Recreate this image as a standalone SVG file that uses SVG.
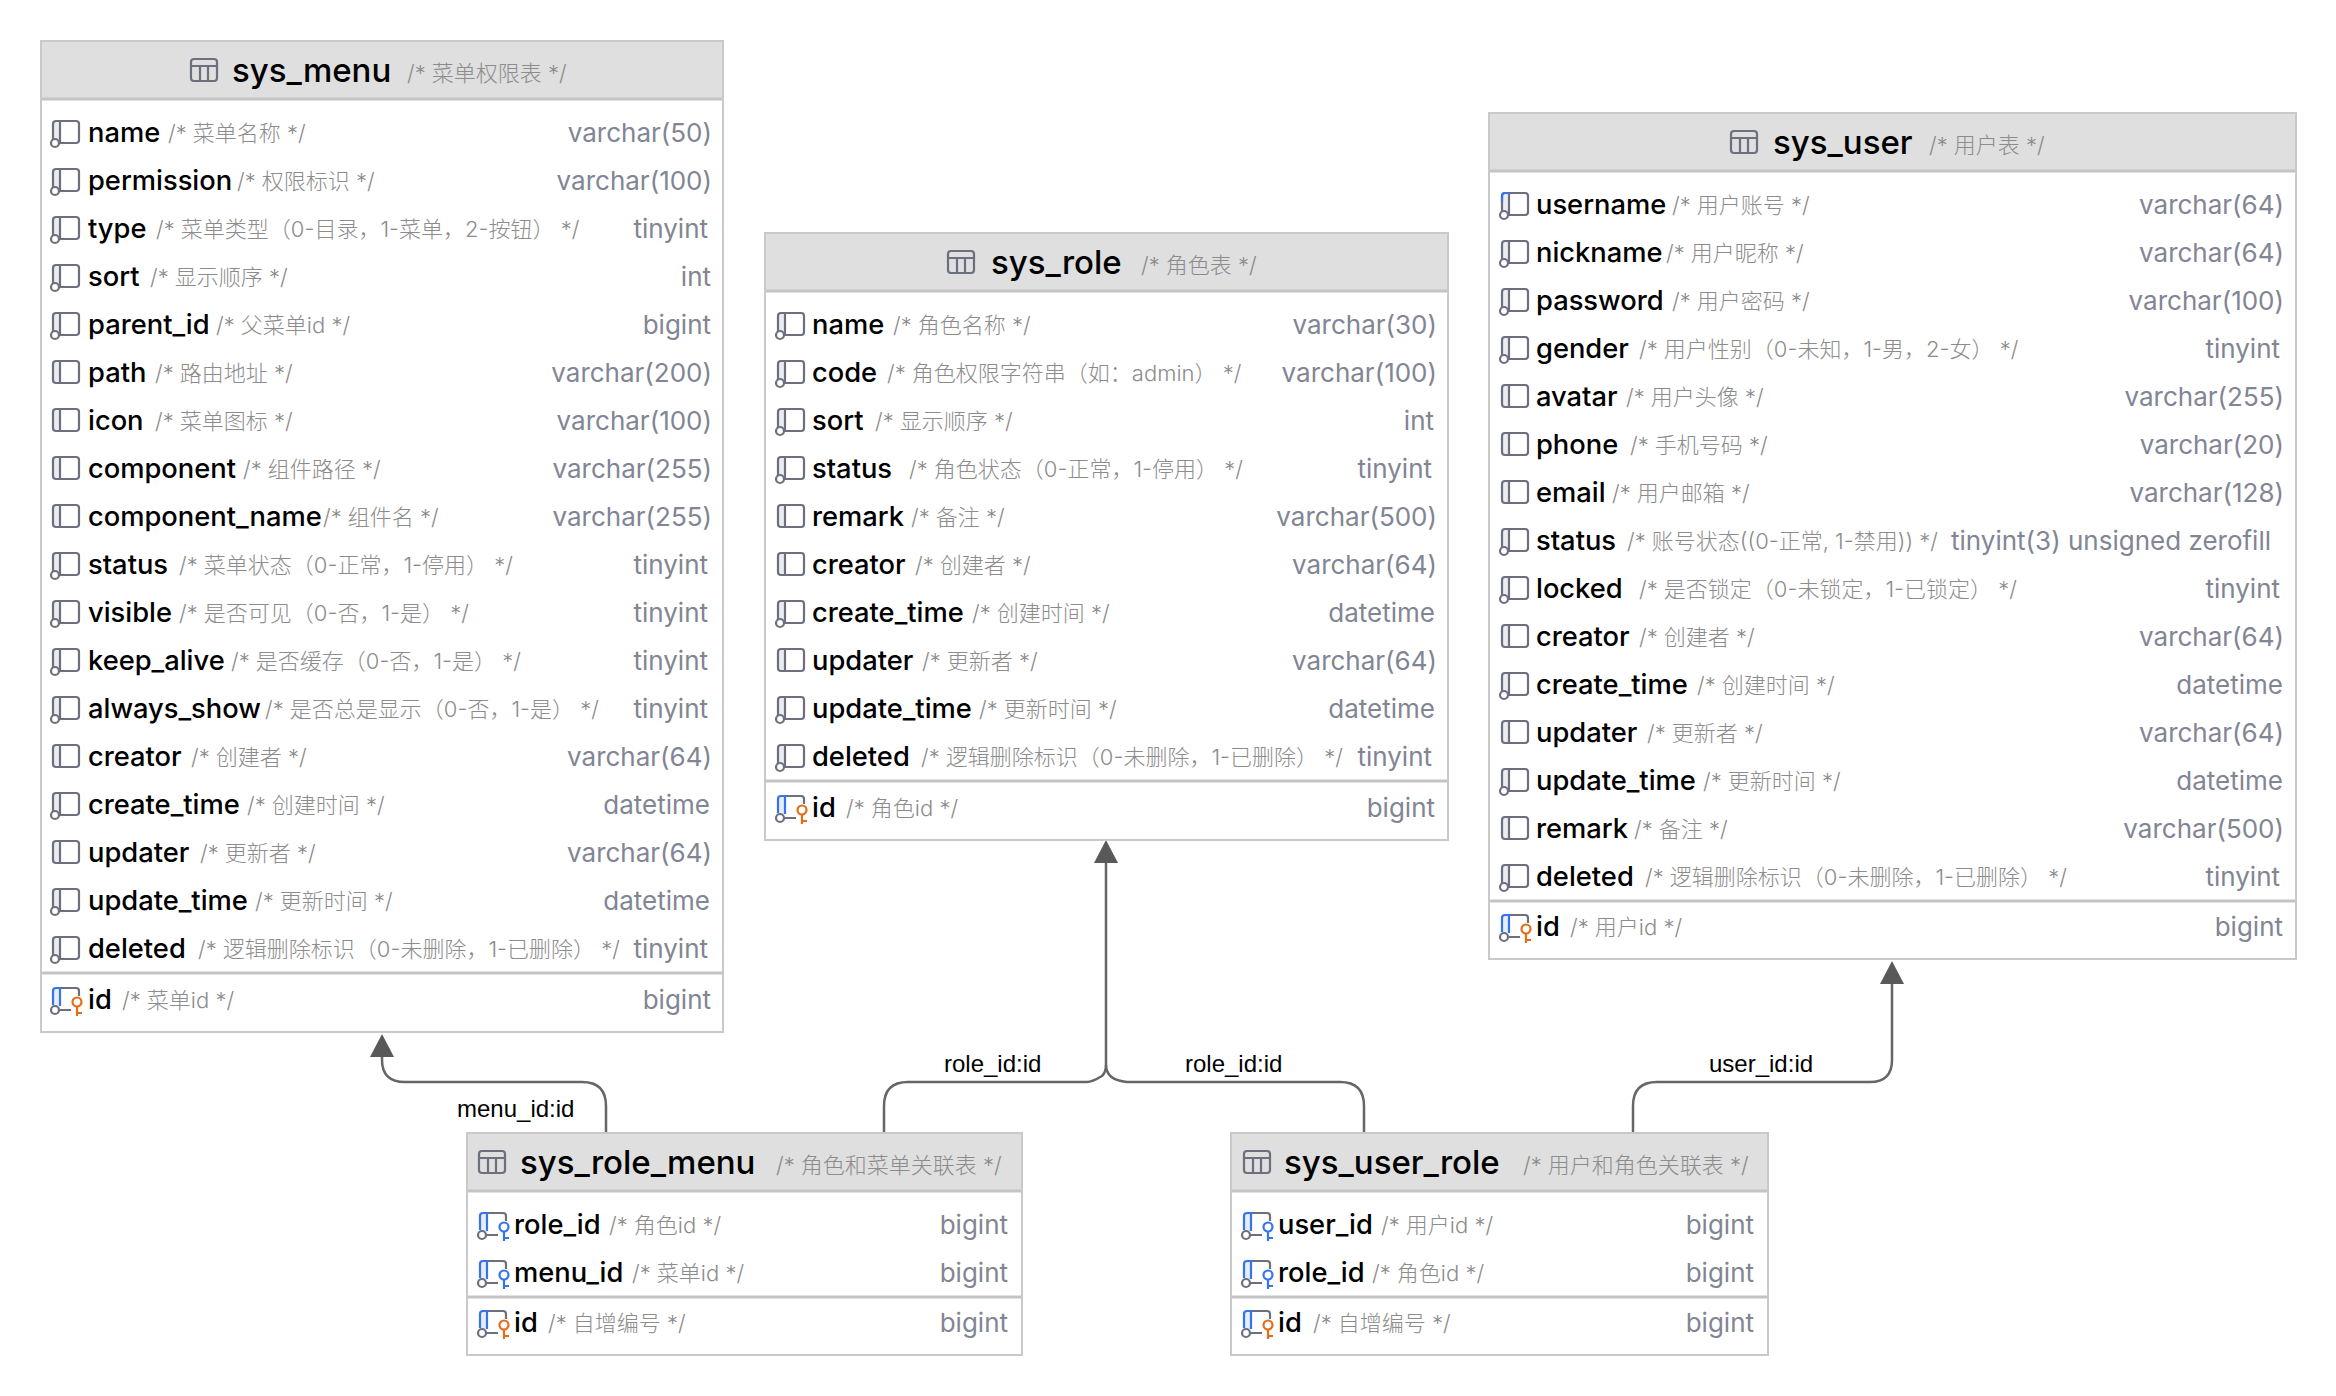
<svg xmlns="http://www.w3.org/2000/svg" width="2336" height="1396" viewBox="0 0 2336 1396">
<style>
text{font-family:Inter,"Noto Sans CJK SC",sans-serif}
.box{fill:#fff;stroke:#c9c9c9;stroke-width:2}
.hd{fill:#dfdfdf}
.sep{stroke:#c4c4c4;stroke-width:3;fill:none}
.ttl{font-size:33px;font-weight:500;fill:#000}
.tc{font-size:22px;fill:#8c8c8c;font-weight:300}
.n{font-size:27.3px;font-weight:500;fill:#000}
.c{font-size:22px;fill:#8c8c8c;font-weight:300}
.t{font-size:26px;fill:#818594;text-anchor:end}
.lbl{font-family:"Liberation Sans",Arial,sans-serif;font-size:24px;fill:#000}
.con{fill:none;stroke:#666;stroke-width:2.5}
.ah{fill:#595959}
.g{fill:none;stroke:#6c707e;stroke-width:2.2}
.bl{fill:none;stroke:#3574f0;stroke-width:2.2}
.or{fill:none;stroke:#e66d17;stroke-width:2.2}
</style>
<defs>
<g id="tbl"><rect class="g" x="1" y="1" width="26" height="22" rx="3"/><path class="g" d="M1 8H27M10 8V23M18 8V23"/></g>
<g id="col"><path d="M1-12H7V10H1Z" fill="#ebecf0"/><rect class="g" x="0" y="-12" width="26" height="22" rx="3"/><path class="g" d="M7-12V10"/></g>
<g id="nn"><circle cx="2" cy="10" r="4" fill="#fff" stroke="#6c707e" stroke-width="2.2"/></g>
<g id="cn"><use href="#col"/><use href="#nn"/></g>
<g id="cu"><use href="#cn"/><path class="bl" d="M0-3V-9Q0-12 3-12H7"/></g>
<g id="pk"><path d="M1-12H7V10H1Z" fill="#e6eeff"/><path class="g" d="M7-12H23Q26-12 26-9V-4M7 10H18"/><path class="bl" d="M0 5V-9Q0-12 3-12H7V6"/><use href="#nn"/><circle class="or" cx="24" cy="2" r="4.5"/><path class="or" d="M24 6.500V16M24 13H29"/></g>
<g id="fk"><path d="M1-12H7V10H1Z" fill="#e6eeff"/><path class="g" d="M7-12H23Q26-12 26-9V-4M7 10H18"/><path class="bl" d="M0 5V-9Q0-12 3-12H7V6"/><use href="#nn"/><circle class="bl" cx="24" cy="2" r="4.500"/><path class="bl" d="M24 6.500V16M24 13H29"/></g>
</defs>
<g id="connectors">
<path class="con" d="M606 1132V1106Q606 1082 582 1082H405Q382 1082 382 1060V1054"/>
<path class="ah" d="M382 1034L394 1057H370Z"/>
<path class="con" d="M884 1132V1106Q884 1082 908 1082H1087Q1092 1082 1102 1076Q1106 1072 1106 1065V860"/>
<path class="con" d="M1364 1132V1106Q1364 1082 1340 1082H1127Q1106 1080 1106 1065"/>
<path class="ah" d="M1106 840L1118 863H1094Z"/>
<path class="con" d="M1633 1132V1106Q1633 1082 1657 1082H1870Q1892 1082 1892 1060V983"/>
<path class="ah" d="M1892 961L1904 984H1880Z"/>
<text class="lbl" x="457" y="1117">menu_id:id</text>
<text class="lbl" x="944" y="1072">role_id:id</text>
<text class="lbl" x="1185" y="1072">role_id:id</text>
<text class="lbl" x="1709" y="1072">user_id:id</text>
</g>
<g id="sys_menu">
<rect class="box" x="41" y="41" width="682" height="991"/><rect class="hd" x="42" y="42" width="680" height="56"/><path class="sep" d="M42 99H722M42 973H722"/>
<use href="#tbl" x="190" y="58"/><text class="ttl" x="232" y="82">sys_menu</text><text class="tc" x="407" y="81">/* 菜单权限表 */</text>
<use href="#cn" x="53" y="133"/><text class="n" x="88" y="142">name</text><text class="c" x="168" y="141">/* 菜单名称 */</text><text class="t" x="712" y="142">varchar(50)</text>
<use href="#cn" x="53" y="181"/><text class="n" x="88" y="190">permission</text><text class="c" x="237" y="189">/* 权限标识 */</text><text class="t" x="712" y="190">varchar(100)</text>
<use href="#cn" x="53" y="229"/><text class="n" x="88" y="238">type</text><text class="c" x="156" y="237">/* 菜单类型（0-目录，1-菜单，2-按钮） */</text><text class="t" x="708" y="238">tinyint</text>
<use href="#cn" x="53" y="277"/><text class="n" x="88" y="286">sort</text><text class="c" x="150" y="285">/* 显示顺序 */</text><text class="t" x="711" y="286">int</text>
<use href="#cn" x="53" y="325"/><text class="n" x="88" y="334">parent_id</text><text class="c" x="216" y="333">/* 父菜单id */</text><text class="t" x="711" y="334">bigint</text>
<use href="#col" x="53" y="373"/><text class="n" x="88" y="382">path</text><text class="c" x="155" y="381">/* 路由地址 */</text><text class="t" x="712" y="382">varchar(200)</text>
<use href="#col" x="53" y="421"/><text class="n" x="88" y="430">icon</text><text class="c" x="155" y="429">/* 菜单图标 */</text><text class="t" x="712" y="430">varchar(100)</text>
<use href="#col" x="53" y="469"/><text class="n" x="88" y="478">component</text><text class="c" x="243" y="477">/* 组件路径 */</text><text class="t" x="712" y="478">varchar(255)</text>
<use href="#col" x="53" y="517"/><text class="n" x="88" y="526">component_name</text><text class="c" x="323" y="525">/* 组件名 */</text><text class="t" x="712" y="526">varchar(255)</text>
<use href="#cn" x="53" y="565"/><text class="n" x="88" y="574">status</text><text class="c" x="179" y="573">/* 菜单状态（0-正常，1-停用） */</text><text class="t" x="708" y="574">tinyint</text>
<use href="#cn" x="53" y="613"/><text class="n" x="88" y="622">visible</text><text class="c" x="179" y="621">/* 是否可见（0-否，1-是） */</text><text class="t" x="708" y="622">tinyint</text>
<use href="#cn" x="53" y="661"/><text class="n" x="88" y="670">keep_alive</text><text class="c" x="231" y="669">/* 是否缓存（0-否，1-是） */</text><text class="t" x="708" y="670">tinyint</text>
<use href="#cn" x="53" y="709"/><text class="n" x="88" y="718">always_show</text><text class="c" x="265" y="717">/* 是否总是显示（0-否，1-是） */</text><text class="t" x="708" y="718">tinyint</text>
<use href="#col" x="53" y="757"/><text class="n" x="88" y="766">creator</text><text class="c" x="191" y="765">/* 创建者 */</text><text class="t" x="712" y="766">varchar(64)</text>
<use href="#cn" x="53" y="805"/><text class="n" x="88" y="814">create_time</text><text class="c" x="247" y="813">/* 创建时间 */</text><text class="t" x="710" y="814">datetime</text>
<use href="#col" x="53" y="853"/><text class="n" x="88" y="862">updater</text><text class="c" x="200" y="861">/* 更新者 */</text><text class="t" x="712" y="862">varchar(64)</text>
<use href="#cn" x="53" y="901"/><text class="n" x="88" y="910">update_time</text><text class="c" x="255" y="909">/* 更新时间 */</text><text class="t" x="710" y="910">datetime</text>
<use href="#cn" x="53" y="949"/><text class="n" x="88" y="958">deleted</text><text class="c" x="198" y="957">/* 逻辑删除标识（0-未删除，1-已删除） */</text><text class="t" x="708" y="958">tinyint</text>
<use href="#pk" x="53" y="1000"/><text class="n" x="88" y="1009">id</text><text class="c" x="122" y="1008">/* 菜单id */</text><text class="t" x="711" y="1009">bigint</text>
</g>
<g id="sys_role">
<rect class="box" x="765" y="233" width="683" height="607"/><rect class="hd" x="766" y="234" width="681" height="56"/><path class="sep" d="M766 291H1447M766 781H1447"/>
<use href="#tbl" x="947" y="250"/><text class="ttl" x="991" y="274">sys_role</text><text class="tc" x="1141" y="273">/* 角色表 */</text>
<use href="#cn" x="778" y="325"/><text class="n" x="812" y="334">name</text><text class="c" x="893" y="333">/* 角色名称 */</text><text class="t" x="1437" y="334">varchar(30)</text>
<use href="#cn" x="778" y="373"/><text class="n" x="812" y="382">code</text><text class="c" x="887" y="381">/* 角色权限字符串（如：admin） */</text><text class="t" x="1437" y="382">varchar(100)</text>
<use href="#cn" x="778" y="421"/><text class="n" x="812" y="430">sort</text><text class="c" x="875" y="429">/* 显示顺序 */</text><text class="t" x="1434" y="430">int</text>
<use href="#cn" x="778" y="469"/><text class="n" x="812" y="478">status</text><text class="c" x="909" y="477">/* 角色状态（0-正常，1-停用） */</text><text class="t" x="1432" y="478">tinyint</text>
<use href="#col" x="778" y="517"/><text class="n" x="812" y="526">remark</text><text class="c" x="911" y="525">/* 备注 */</text><text class="t" x="1437" y="526">varchar(500)</text>
<use href="#col" x="778" y="565"/><text class="n" x="812" y="574">creator</text><text class="c" x="915" y="573">/* 创建者 */</text><text class="t" x="1437" y="574">varchar(64)</text>
<use href="#cn" x="778" y="613"/><text class="n" x="812" y="622">create_time</text><text class="c" x="972" y="621">/* 创建时间 */</text><text class="t" x="1435" y="622">datetime</text>
<use href="#col" x="778" y="661"/><text class="n" x="812" y="670">updater</text><text class="c" x="922" y="669">/* 更新者 */</text><text class="t" x="1437" y="670">varchar(64)</text>
<use href="#cn" x="778" y="709"/><text class="n" x="812" y="718">update_time</text><text class="c" x="979" y="717">/* 更新时间 */</text><text class="t" x="1435" y="718">datetime</text>
<use href="#cn" x="778" y="757"/><text class="n" x="812" y="766">deleted</text><text class="c" x="921" y="765">/* 逻辑删除标识（0-未删除，1-已删除） */</text><text class="t" x="1432" y="766">tinyint</text>
<use href="#pk" x="778" y="808"/><text class="n" x="812" y="817">id</text><text class="c" x="846" y="816">/* 角色id */</text><text class="t" x="1435" y="817">bigint</text>
</g>
<g id="sys_user">
<rect class="box" x="1489" y="113" width="807" height="846"/><rect class="hd" x="1490" y="114" width="805" height="56"/><path class="sep" d="M1490 171H2295M1490 901H2295"/>
<use href="#tbl" x="1730" y="130"/><text class="ttl" x="1773" y="154">sys_user</text><text class="tc" x="1929" y="153">/* 用户表 */</text>
<use href="#cu" x="1502" y="205"/><text class="n" x="1536" y="214">username</text><text class="c" x="1672" y="213">/* 用户账号 */</text><text class="t" x="2284" y="214">varchar(64)</text>
<use href="#cn" x="1502" y="253"/><text class="n" x="1536" y="262">nickname</text><text class="c" x="1666" y="261">/* 用户昵称 */</text><text class="t" x="2284" y="262">varchar(64)</text>
<use href="#cn" x="1502" y="301"/><text class="n" x="1536" y="310">password</text><text class="c" x="1672" y="309">/* 用户密码 */</text><text class="t" x="2284" y="310">varchar(100)</text>
<use href="#cn" x="1502" y="349"/><text class="n" x="1536" y="358">gender</text><text class="c" x="1639" y="357">/* 用户性别（0-未知，1-男，2-女） */</text><text class="t" x="2280" y="358">tinyint</text>
<use href="#col" x="1502" y="397"/><text class="n" x="1536" y="406">avatar</text><text class="c" x="1626" y="405">/* 用户头像 */</text><text class="t" x="2284" y="406">varchar(255)</text>
<use href="#col" x="1502" y="445"/><text class="n" x="1536" y="454">phone</text><text class="c" x="1630" y="453">/* 手机号码 */</text><text class="t" x="2284" y="454">varchar(20)</text>
<use href="#col" x="1502" y="493"/><text class="n" x="1536" y="502">email</text><text class="c" x="1612" y="501">/* 用户邮箱 */</text><text class="t" x="2284" y="502">varchar(128)</text>
<use href="#cn" x="1502" y="541"/><text class="n" x="1536" y="550">status</text><text class="c" x="1627" y="549">/* 账号状态((0-正常, 1-禁用)) */</text><text class="t" x="2271" y="550">tinyint(3) unsigned zerofill</text>
<use href="#cn" x="1502" y="589"/><text class="n" x="1536" y="598">locked</text><text class="c" x="1639" y="597">/* 是否锁定（0-未锁定，1-已锁定） */</text><text class="t" x="2280" y="598">tinyint</text>
<use href="#col" x="1502" y="637"/><text class="n" x="1536" y="646">creator</text><text class="c" x="1639" y="645">/* 创建者 */</text><text class="t" x="2284" y="646">varchar(64)</text>
<use href="#cn" x="1502" y="685"/><text class="n" x="1536" y="694">create_time</text><text class="c" x="1697" y="693">/* 创建时间 */</text><text class="t" x="2283" y="694">datetime</text>
<use href="#col" x="1502" y="733"/><text class="n" x="1536" y="742">updater</text><text class="c" x="1647" y="741">/* 更新者 */</text><text class="t" x="2284" y="742">varchar(64)</text>
<use href="#cn" x="1502" y="781"/><text class="n" x="1536" y="790">update_time</text><text class="c" x="1703" y="789">/* 更新时间 */</text><text class="t" x="2283" y="790">datetime</text>
<use href="#col" x="1502" y="829"/><text class="n" x="1536" y="838">remark</text><text class="c" x="1634" y="837">/* 备注 */</text><text class="t" x="2284" y="838">varchar(500)</text>
<use href="#cn" x="1502" y="877"/><text class="n" x="1536" y="886">deleted</text><text class="c" x="1645" y="885">/* 逻辑删除标识（0-未删除，1-已删除） */</text><text class="t" x="2280" y="886">tinyint</text>
<use href="#pk" x="1502" y="927"/><text class="n" x="1536" y="936">id</text><text class="c" x="1570" y="935">/* 用户id */</text><text class="t" x="2283" y="936">bigint</text>
</g>
<g id="sys_role_menu">
<rect class="box" x="467" y="1133" width="555" height="222"/><rect class="hd" x="468" y="1134" width="553" height="56"/><path class="sep" d="M468 1191H1021M468 1297H1021"/>
<use href="#tbl" x="478" y="1150"/><text class="ttl" x="520" y="1174">sys_role_menu</text><text class="tc" x="776" y="1173">/* 角色和菜单关联表 */</text>
<use href="#fk" x="480" y="1225"/><text class="n" x="514" y="1234">role_id</text><text class="c" x="609" y="1233">/* 角色id */</text><text class="t" x="1008" y="1234">bigint</text>
<use href="#fk" x="480" y="1273"/><text class="n" x="514" y="1282">menu_id</text><text class="c" x="632" y="1281">/* 菜单id */</text><text class="t" x="1008" y="1282">bigint</text>
<use href="#pk" x="480" y="1323"/><text class="n" x="514" y="1332">id</text><text class="c" x="548" y="1331">/* 自增编号 */</text><text class="t" x="1008" y="1332">bigint</text>
</g>
<g id="sys_user_role">
<rect class="box" x="1231" y="1133" width="537" height="222"/><rect class="hd" x="1232" y="1134" width="535" height="56"/><path class="sep" d="M1232 1191H1767M1232 1297H1767"/>
<use href="#tbl" x="1243" y="1150"/><text class="ttl" x="1284" y="1174">sys_user_role</text><text class="tc" x="1523" y="1173">/* 用户和角色关联表 */</text>
<use href="#fk" x="1244" y="1225"/><text class="n" x="1278" y="1234">user_id</text><text class="c" x="1381" y="1233">/* 用户id */</text><text class="t" x="1754" y="1234">bigint</text>
<use href="#fk" x="1244" y="1273"/><text class="n" x="1278" y="1282">role_id</text><text class="c" x="1372" y="1281">/* 角色id */</text><text class="t" x="1754" y="1282">bigint</text>
<use href="#pk" x="1244" y="1323"/><text class="n" x="1278" y="1332">id</text><text class="c" x="1313" y="1331">/* 自增编号 */</text><text class="t" x="1754" y="1332">bigint</text>
</g>
</svg>
